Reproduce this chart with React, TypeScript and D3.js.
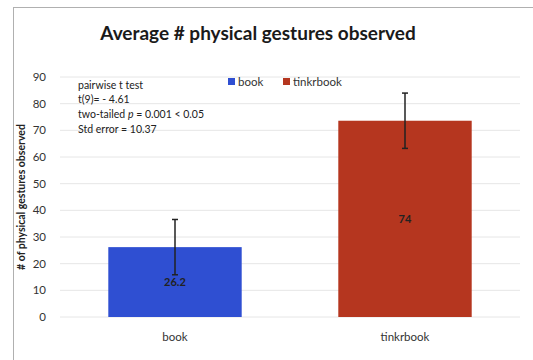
import React from "react";
import * as d3 from "d3";

const categories = ["book", "tinkrbook"];
const values = [26.2, 73.6];
const errors = [10.37, 10.37];
const valueLabels = ["26.2", "74"];
const colors = ["#2f4fd2", "#b5361f"];
const yTicks = [0, 10, 20, 30, 40, 50, 60, 70, 80, 90];
const noteLines = ["pairwise t test", "t(9)= - 4.61", "two-tailed p = 0.001 < 0.05", "Std error = 10.37"];

const W = 533;
const H = 360;
const FONT = "Lato, 'Open Sans', sans-serif";

export default function App() {
  const x = d3.scaleBand<string>().domain(categories).range([60, 520]).paddingInner(0.42).paddingOuter(0.21);
  const y = d3.scaleLinear().domain([0, 90]).range([317, 77]);
  const bw = x.bandwidth();

  return (
    <svg width={W} height={H} style={{ position: "absolute", left: 0, top: 0, background: "#fff" }}>
      <rect x={13.5} y={7.5} width={W} height={H} fill="#fff" stroke="#b0b0b0" strokeWidth={1} />
      <text x={258} y={40} textAnchor="middle" fontFamily={FONT} fontWeight={700} fontSize={19} fill="#1a1a1a">
        Average # physical gestures observed
      </text>
      {yTicks.map((t) => (
        <g key={t}>
          <line x1={60} x2={520} y1={y(t)} y2={y(t)} stroke="#e6e6e6" strokeWidth={1} />
          <text x={46} y={y(t)} dy="0.35em" textAnchor="end" fontFamily={FONT} fontSize={11.5} fill="#333">
            {t}
          </text>
        </g>
      ))}
      <text
        transform={`translate(25,${(y(0) + y(90)) / 2}) rotate(-90)`}
        textAnchor="middle"
        fontFamily={FONT}
        fontWeight={700}
        fontSize={10.5}
        fill="#222"
      >
        # of physical gestures observed
      </text>
      {categories.map((c, i) => {
        const cx = (x(c) as number) + bw / 2;
        return (
          <g key={c}>
            <rect x={x(c)} y={y(values[i])} width={bw} height={y(0) - y(values[i])} fill={colors[i]} />
            <line x1={cx} x2={cx} y1={y(values[i] + errors[i])} y2={y(values[i] - errors[i])} stroke="#222" strokeWidth={1.5} />
            <line x1={cx - 3} x2={cx + 3} y1={y(values[i] + errors[i])} y2={y(values[i] + errors[i])} stroke="#222" strokeWidth={1.5} />
            <line x1={cx - 3} x2={cx + 3} y1={y(values[i] - errors[i])} y2={y(values[i] - errors[i])} stroke="#222" strokeWidth={1.5} />
            <text x={cx} y={(y(values[i]) + y(0)) / 2} dy="0.35em" textAnchor="middle" fontFamily={FONT} fontWeight={700} fontSize={11} fill="#222">
              {valueLabels[i]}
            </text>
            <text x={cx} y={337} dy="0.35em" textAnchor="middle" fontFamily={FONT} fontSize={11.5} fill="#333">
              {c}
            </text>
          </g>
        );
      })}
      {categories.map((c, i) => {
        const lx = [228, 283][i];
        return (
          <g key={"lg" + c}>
            <rect x={lx} y={78} width={7} height={7} fill={colors[i]} />
            <text x={lx + 10} y={82} dy="0.35em" fontFamily={FONT} fontSize={11.5} fill="#333">
              {c}
            </text>
          </g>
        );
      })}
      {noteLines.map((l, i) => (
        <text key={i} x={78} y={85 + i * 14.7} dy="0.35em" fontFamily={FONT} fontSize={10.5} fill="#222">
          {i === 2 ? (
            <>
              two-tailed <tspan fontStyle="italic">p</tspan> = 0.001 &lt; 0.05
            </>
          ) : (
            l
          )}
        </text>
      ))}
    </svg>
  );
}
